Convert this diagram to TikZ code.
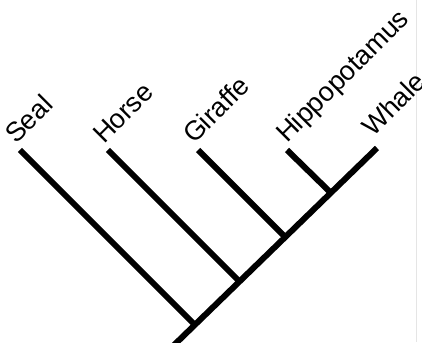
\documentclass[tikz,border=0pt]{standalone}
\usepackage{fontspec}
\setmainfont{Liberation Sans}
\begin{document}
\begin{tikzpicture}[x=1pt,y=1pt,
  branch/.style={line width=6pt},
  taxon/.style={rotate=45,anchor=base west,inner sep=0pt,font=\fontsize{27}{27}\selectfont}]
\useasboundingbox (0,0) rectangle (422,342);
\draw[gray!20,line width=1pt] (416.5,0) -- (416.5,342);
% tips and joins
\coordinate (root) at (171,-6);
\coordinate (whale) at (377,194);
\coordinate (seal) at (20,192);
\coordinate (horse) at (108,192);
\coordinate (giraffe) at (198,192);
\coordinate (hippo) at (287,192);
\coordinate (j1) at (195,17);
\coordinate (j2) at (239.5,60.5);
\coordinate (j3) at (285,105);
\coordinate (j4) at (331,149);
\draw[branch] (root) -- (whale);
\draw[branch] (seal) -- (j1);
\draw[branch] (horse) -- (j2);
\draw[branch] (giraffe) -- (j3);
\draw[branch] (hippo) -- (j4);
% labels
\node[taxon] (lseal) at (16,197) {Seal};
\node[taxon] (lhorse) at (104,197) {Horse};
\node[taxon] (lgiraffe) at (194,197) {Giraffe};
\node[taxon] (lhippo) at (287,198) {Hippopotamus};
\node[taxon] (lwhale) at (373,204) {Whale};
\end{tikzpicture}
\end{document}
